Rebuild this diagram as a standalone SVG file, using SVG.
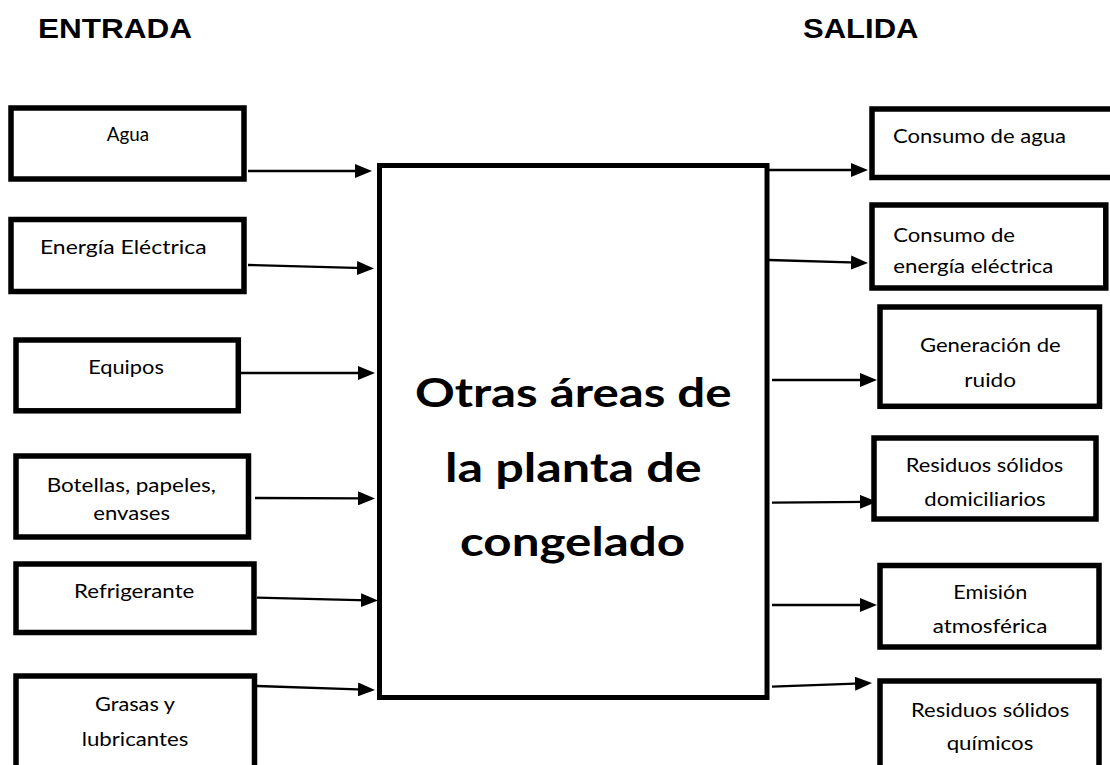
<svg xmlns="http://www.w3.org/2000/svg" width="1110" height="765" viewBox="0 0 1110 765">
<style>
.box{fill:#fff;stroke:#000;stroke-width:5.5}
.main{fill:#fff;stroke:#000;stroke-width:5}
.lbl{font-family:Lato,"Liberation Sans",sans-serif;font-size:18.5px;fill:#000}
.c{text-anchor:middle}
.big{font-family:Lato,"Liberation Sans",sans-serif;font-size:40.5px;font-weight:bold;fill:#000;text-anchor:middle}
.ttl{font-family:"Liberation Sans",Arial,sans-serif;font-size:28px;font-weight:bold;fill:#000}
.arr{fill:none;stroke:#000;stroke-width:2.3;marker-end:url(#ah)}
</style>
<defs>
<marker id="ah" viewBox="0 0 17 14" refX="7" refY="7" markerWidth="17" markerHeight="14" markerUnits="userSpaceOnUse" orient="auto" preserveAspectRatio="none">
<path d="M0,0 L17,7 L0,14 z" fill="#000"/>
</marker>
</defs>
<rect width="1110" height="765" fill="#fff"/>
<text class="ttl" x="38" y="38" textLength="154" lengthAdjust="spacingAndGlyphs">ENTRADA</text>
<text class="ttl" x="803" y="38" textLength="115.5" lengthAdjust="spacingAndGlyphs">SALIDA</text>

<g id="connectors">
<path class="arr" d="M248,171 L362,171"/>
<path class="arr" d="M248,265 L364,268.2"/>
<path class="arr" d="M241,373 L365,373"/>
<path class="arr" d="M255,498 L365,498.4"/>
<path class="arr" d="M257,597.7 L368,600.3"/>
<path class="arr" d="M257,686 L365,689.7"/>
<path class="arr" d="M769,170 L858,170"/>
<path class="arr" d="M769,260 L858,262.7"/>
<path class="arr" d="M772,380 L867,380"/>
<path class="arr" d="M772,502.7 L867,501.8"/>
<path class="arr" d="M772,605 L867,605"/>
<path class="arr" d="M772,686.7 L862,683.4"/>
</g>

<g id="main">
<rect class="main" x="379.5" y="165.5" width="387.5" height="532"/>
<text class="big" x="573.3" y="407" textLength="316.7" lengthAdjust="spacingAndGlyphs">Otras áreas de</text>
<text class="big" x="573.3" y="481.5" textLength="256.7" lengthAdjust="spacingAndGlyphs">la planta de</text>
<text class="big" x="572.5" y="556" textLength="225" lengthAdjust="spacingAndGlyphs">congelado</text>
</g>

<g id="in-agua">
<rect class="box" x="11" y="108" width="233" height="71"/>
<text class="lbl c" x="128" y="141" textLength="42.3" lengthAdjust="spacingAndGlyphs">Agua</text>
</g>
<g id="in-energia">
<rect class="box" x="11" y="219.5" width="233" height="72"/>
<text class="lbl c" x="123.3" y="254.3" textLength="166.7" lengthAdjust="spacingAndGlyphs">Energía Eléctrica</text>
</g>
<g id="in-equipos">
<rect class="box" x="16" y="340" width="222.3" height="70.8"/>
<text class="lbl c" x="126" y="374" textLength="75.7" lengthAdjust="spacingAndGlyphs">Equipos</text>
</g>
<g id="in-botellas">
<rect class="box" x="16" y="456" width="232.5" height="81"/>
<text class="lbl c" x="131.3" y="492" textLength="169.3" lengthAdjust="spacingAndGlyphs">Botellas, papeles,</text>
<text class="lbl c" x="131.7" y="520" textLength="76.7" lengthAdjust="spacingAndGlyphs">envases</text>
</g>
<g id="in-refrigerante">
<rect class="box" x="16" y="564" width="238" height="68.5"/>
<text class="lbl c" x="134.2" y="598.3" textLength="120.3" lengthAdjust="spacingAndGlyphs">Refrigerante</text>
</g>
<g id="in-grasas">
<rect class="box" x="16" y="676" width="238.5" height="120"/>
<text class="lbl c" x="135" y="711.3" textLength="80" lengthAdjust="spacingAndGlyphs">Grasas y</text>
<text class="lbl c" x="135" y="746" textLength="106.7" lengthAdjust="spacingAndGlyphs">lubricantes</text>
</g>

<g id="out-agua">
<rect class="box" x="872" y="109" width="250" height="68.5"/>
<text class="lbl" x="893" y="143.3" textLength="173" lengthAdjust="spacingAndGlyphs">Consumo de agua</text>
</g>
<g id="out-energia">
<rect class="box" x="872" y="205" width="233.8" height="83"/>
<text class="lbl" x="893.3" y="241.7" textLength="121.7" lengthAdjust="spacingAndGlyphs">Consumo de</text>
<text class="lbl" x="893.3" y="272.7" textLength="160" lengthAdjust="spacingAndGlyphs">energía eléctrica</text>
</g>
<g id="out-ruido">
<rect class="box" x="880" y="307" width="219.5" height="99.3"/>
<text class="lbl c" x="990.3" y="352.3" textLength="140.7" lengthAdjust="spacingAndGlyphs">Generación de</text>
<text class="lbl c" x="990.2" y="386.7" textLength="51.7" lengthAdjust="spacingAndGlyphs">ruido</text>
</g>
<g id="out-domiciliarios">
<rect class="box" x="874" y="438" width="222" height="81"/>
<text class="lbl c" x="984.5" y="471.7" textLength="157.7" lengthAdjust="spacingAndGlyphs">Residuos sólidos</text>
<text class="lbl c" x="985" y="505.7" textLength="121.3" lengthAdjust="spacingAndGlyphs">domiciliarios</text>
</g>
<g id="out-emision">
<rect class="box" x="880" y="565.5" width="219" height="81.5"/>
<text class="lbl c" x="990.3" y="599" textLength="74" lengthAdjust="spacingAndGlyphs">Emisión</text>
<text class="lbl c" x="990" y="633.3" textLength="114.7" lengthAdjust="spacingAndGlyphs">atmosférica</text>
</g>
<g id="out-quimicos">
<rect class="box" x="880" y="681" width="219" height="120"/>
<text class="lbl c" x="990.2" y="716.7" textLength="158.3" lengthAdjust="spacingAndGlyphs">Residuos sólidos</text>
<text class="lbl c" x="990" y="750" textLength="86.7" lengthAdjust="spacingAndGlyphs">químicos</text>
</g>
</svg>
